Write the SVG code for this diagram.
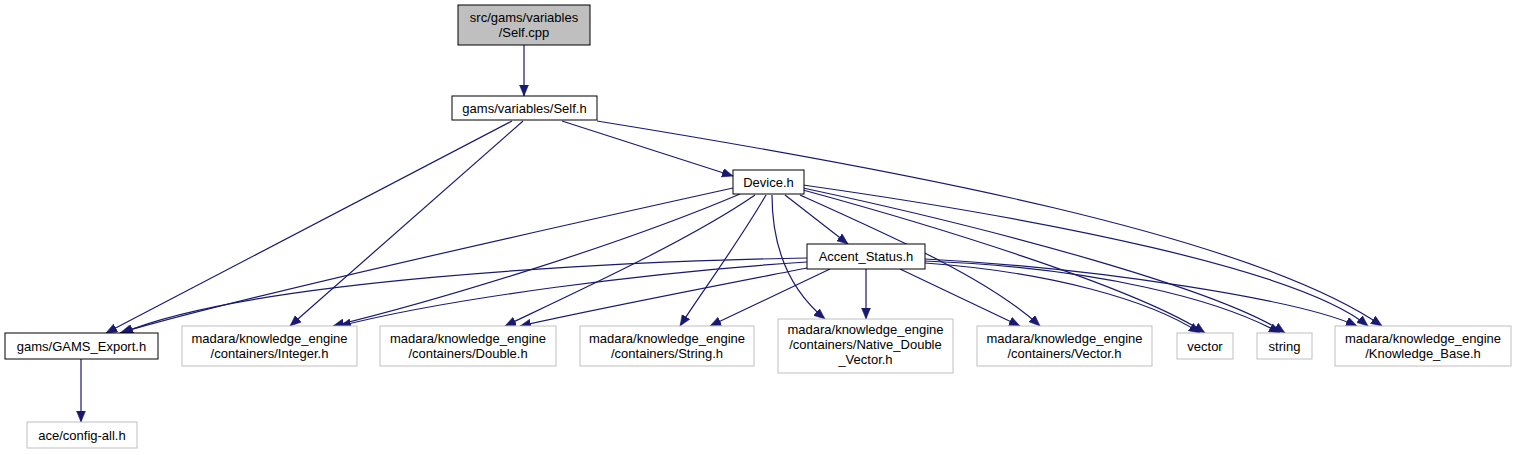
<svg xmlns="http://www.w3.org/2000/svg" width="1516" height="455" viewBox="0 0 1516 455">
<style>
text{font-family:"Liberation Sans",Arial,sans-serif;font-size:13px;fill:#000;text-anchor:middle}
.n{fill:#fff;stroke:#000;stroke-width:1}
.g{fill:#fff;stroke:#bfbfbf;stroke-width:1}
.c{fill:#bfbfbf;stroke:#000;stroke-width:1}
.e{fill:none;stroke:#191970;stroke-width:1.2;marker-end:url(#a)}
</style>
<defs>
<marker id="a" markerUnits="userSpaceOnUse" markerWidth="12" markerHeight="10" refX="11" refY="4.5" orient="auto">
<path d="M0,0 L11,4.5 L0,9 Z" fill="#191970" stroke="#191970" stroke-width="0.5"/>
</marker>
</defs>
<rect width="1516" height="455" fill="#fff"/>
<g id="edges">
<path class="e" d="M524,45 L524,96"/>
<path class="e" d="M512,121 L106,333"/>
<path class="e" d="M523,121 L290,326"/>
<path class="e" d="M562,121 L733,176"/>
<path class="e" d="M597,121 C900,170 1250,235 1382,326"/>
<path class="e" d="M733,188 C520,235 230,300 120,333"/>
<path class="e" d="M740,194 C620,245 440,300 333,326"/>
<path class="e" d="M755,195 C690,240 570,295 505,326"/>
<path class="e" d="M766,195 C740,240 700,295 680,326"/>
<path class="e" d="M772,195 C772,250 790,290 825,319"/>
<path class="e" d="M785,195 L848,244"/>
<path class="e" d="M800,195 C900,240 990,280 1040,326"/>
<path class="e" d="M803,190 C950,230 1140,290 1205,333"/>
<path class="e" d="M803,188 C1000,230 1220,290 1285,333"/>
<path class="e" d="M803,185 C1050,220 1300,270 1368,326"/>
<path class="e" d="M807,258 C600,262 250,280 122,333"/>
<path class="e" d="M807,262 C650,272 450,298 340,326"/>
<path class="e" d="M812,267 C720,285 600,308 520,326"/>
<path class="e" d="M830,269 L710,326"/>
<path class="e" d="M866,269 L866,319"/>
<path class="e" d="M900,269 L1020,326"/>
<path class="e" d="M925,263 C1050,272 1150,300 1200,333"/>
<path class="e" d="M925,261 C1100,268 1220,300 1280,333"/>
<path class="e" d="M925,259 C1100,268 1300,300 1357,326"/>
<path class="e" d="M81,359 L81,422"/>
</g>
<g id="self_cpp"><rect class="c" x="458" y="5" width="132" height="40"/><text x="524" y="22">src/gams/variables</text><text x="524" y="37">/Self.cpp</text></g>
<g id="self_h"><rect class="n" x="452" y="96" width="145" height="24"/><text x="524.5" y="113">gams/variables/Self.h</text></g>
<g id="device_h"><rect class="n" x="733" y="170" width="71" height="24"/><text x="768.5" y="187">Device.h</text></g>
<g id="accent_status_h"><rect class="n" x="807" y="244" width="118" height="25"/><text x="866" y="261">Accent_Status.h</text></g>
<g id="gams_export_h"><rect class="n" x="5" y="333" width="153" height="26"/><text x="81.5" y="351">gams/GAMS_Export.h</text></g>
<g id="config_all_h"><rect class="g" x="27" y="422" width="110" height="26"/><text x="82" y="440">ace/config-all.h</text></g>
<g id="integer_h"><rect class="g" x="182" y="326" width="175" height="40"/><text x="269.5" y="343">madara/knowledge_engine</text><text x="269.5" y="358">/containers/Integer.h</text></g>
<g id="double_h"><rect class="g" x="380" y="326" width="176" height="40"/><text x="468" y="343">madara/knowledge_engine</text><text x="468" y="358">/containers/Double.h</text></g>
<g id="string_h"><rect class="g" x="580" y="326" width="174" height="40"/><text x="667" y="343">madara/knowledge_engine</text><text x="667" y="358">/containers/String.h</text></g>
<g id="native_double_vector_h"><rect class="g" x="778" y="319" width="175" height="54"/><text x="865.5" y="334">madara/knowledge_engine</text><text x="865.5" y="349">/containers/Native_Double</text><text x="865.5" y="364">_Vector.h</text></g>
<g id="vector_h"><rect class="g" x="977" y="326" width="175" height="40"/><text x="1064.5" y="343">madara/knowledge_engine</text><text x="1064.5" y="358">/containers/Vector.h</text></g>
<g id="vector"><rect class="g" x="1177" y="333" width="56" height="26"/><text x="1205" y="351">vector</text></g>
<g id="string"><rect class="g" x="1257" y="333" width="55" height="26"/><text x="1284.5" y="351">string</text></g>
<g id="knowledge_base_h"><rect class="g" x="1335" y="326" width="176" height="40"/><text x="1423" y="343">madara/knowledge_engine</text><text x="1423" y="358">/Knowledge_Base.h</text></g>
</svg>
